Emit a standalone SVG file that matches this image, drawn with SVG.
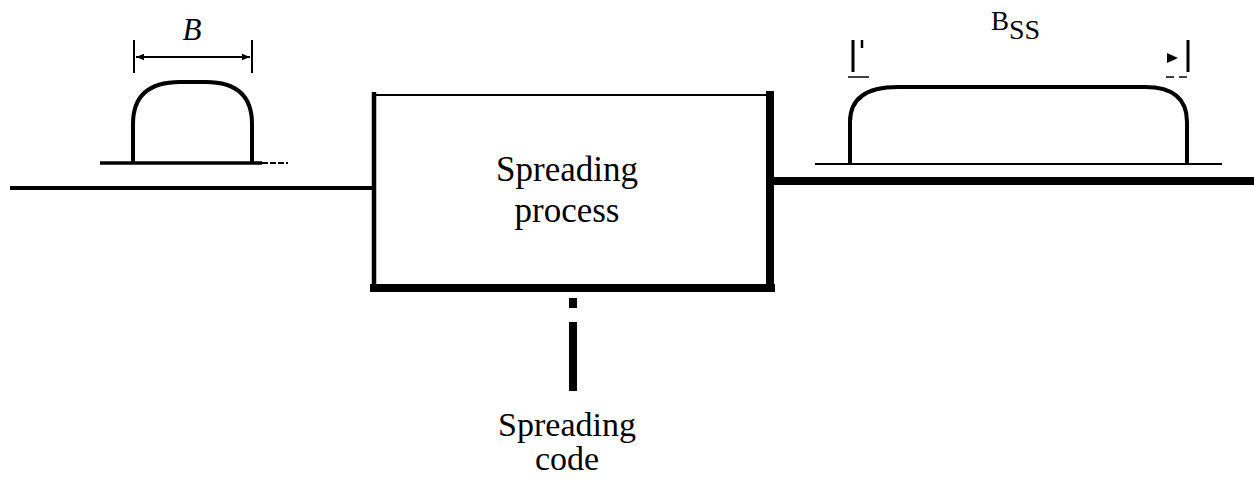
<svg xmlns="http://www.w3.org/2000/svg" width="1254" height="480" viewBox="0 0 1254 480">
<style>
.t{font-family:"Liberation Serif","Times New Roman",serif;fill:#000}
.ln{stroke:#000;fill:none;stroke-linecap:butt}
</style>
<defs>
<marker id="ah" viewBox="0 0 10 10" refX="10" refY="5" markerWidth="8" markerHeight="8" orient="auto-start-reverse" markerUnits="userSpaceOnUse">
<path d="M0,1 L10,5 L0,9 z" fill="#000"/>
</marker>
</defs>
<rect width="1254" height="480" fill="#fff"/>
<g id="connectors">
<line class="ln" x1="10" y1="188" x2="376" y2="188" stroke-width="4"/>
<line class="ln" x1="766" y1="181" x2="1254" y2="181" stroke-width="8"/>
<rect x="569" y="298" width="8" height="10" fill="#000"/>
<line class="ln" x1="573" y1="322" x2="573" y2="391" stroke-width="8"/>
</g>
<g id="input-spectrum">
<line class="ln" x1="100" y1="163" x2="262" y2="163" stroke-width="3.5"/>
<line class="ln" x1="262" y1="163" x2="288" y2="163" stroke-width="2" stroke-dasharray="6 2"/>
<path class="ln" d="M133,162 L133,124 Q133,82 180,82 L206,82 Q252,82 252,124 L252,162" stroke-width="4"/>
<line class="ln" x1="134" y1="40" x2="134" y2="73" stroke-width="2"/>
<line class="ln" x1="252" y1="40" x2="252" y2="73" stroke-width="2"/>
<line class="ln" x1="136" y1="57" x2="250" y2="57" stroke-width="2" marker-start="url(#ah)" marker-end="url(#ah)"/>
<text class="t" x="192" y="40" font-size="31" font-style="italic" text-anchor="middle">B</text>
</g>
<g id="spreading-process">
<line class="ln" x1="372" y1="95" x2="770" y2="95" stroke-width="2"/>
<line class="ln" x1="374" y1="92" x2="374" y2="291" stroke-width="4.5"/>
<line class="ln" x1="770" y1="91" x2="770" y2="292" stroke-width="8"/>
<line class="ln" x1="370" y1="288" x2="775" y2="288" stroke-width="8"/>
<text class="t" x="567" y="181" font-size="35" text-anchor="middle">Spreading</text>
<text class="t" x="567" y="222" font-size="35" text-anchor="middle">process</text>
</g>
<g id="spreading-code">
<text class="t" x="567" y="436" font-size="34" text-anchor="middle">Spreading</text>
<text class="t" x="567" y="470" font-size="34" text-anchor="middle">code</text>
</g>
<g id="output-spectrum">
<line class="ln" x1="815" y1="164" x2="1222" y2="164" stroke-width="2"/>
<path class="ln" d="M850,163 L850,122 Q850,87 898,87 L1145,87 Q1187,87 1187,122 L1187,163" stroke-width="4"/>
<line class="ln" x1="853" y1="40" x2="853" y2="72" stroke-width="3"/>
<line class="ln" x1="862" y1="40" x2="862" y2="48" stroke-width="2.5"/>
<line class="ln" x1="848" y1="77" x2="869" y2="77" stroke-width="1.5"/>
<path d="M1167,53 L1178,58 L1167,63 z" fill="#000"/>
<line class="ln" x1="1188" y1="40" x2="1188" y2="72" stroke-width="3"/>
<line class="ln" x1="1166" y1="77" x2="1191" y2="77" stroke-width="1.5" stroke-dasharray="8 5"/>
<text class="t" x="991" y="30" font-size="27">B<tspan font-size="28" dy="9">SS</tspan></text>
</g>
</svg>
